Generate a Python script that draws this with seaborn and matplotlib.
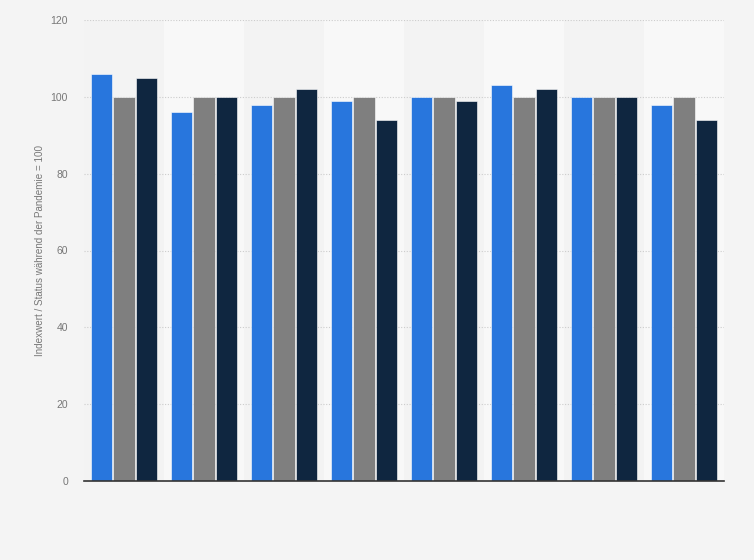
import matplotlib
matplotlib.use("Agg")
import matplotlib.pyplot as plt
import seaborn as sns
import pandas as pd

categories = ["1", "2", "3", "4", "5", "6", "7", "8"]
series_a = [106, 96, 98, 99, 100, 103, 100, 98]
series_b = [100, 100, 100, 100, 100, 100, 100, 100]
series_c = [105, 100, 102, 94, 99, 102, 100, 94]
series_names = ["A", "B", "C"]
colors = ["#2876dd", "#7f7f7f", "#0f2640"]
y_ticks = [0, 20, 40, 60, 80, 100, 120]
y_label = "Indexwert / Status während der Pandemie = 100"

rows = []
for name, vals in zip(series_names, [series_a, series_b, series_c]):
    for c, v in zip(categories, vals):
        rows.append({"cat": c, "series": name, "value": v})
df = pd.DataFrame(rows)

sns.set_theme(style="white")
plt.rcParams["font.family"] = ["Liberation Sans", "DejaVu Sans"]

fig = plt.figure(figsize=(7.54, 5.6), dpi=100, facecolor="#f4f4f4")
ax = fig.add_axes([84/754, 1-481/560, 640/754, 461/560])
ax.set_facecolor("#f3f3f3")

for i in range(len(categories)):
    if i % 2 == 1:
        ax.axvspan(i - 0.5, i + 0.5, color="#f8f8f8", zorder=0, lw=0)

sns.barplot(data=df, x="cat", y="value", hue="series", palette=colors,
            width=0.84, gap=0.06, ax=ax, legend=False, zorder=3,
            edgecolor="#ffffff", linewidth=0.4, saturation=1)

ax.set_xlim(-0.5, len(categories) - 0.5)
ax.set_ylim(0, 120)
ax.set_yticks(y_ticks)
ax.set_yticklabels([str(t) for t in y_ticks], fontsize=7.5, color="#777777")
ax.set_xticks(range(len(categories)))
ax.set_xticklabels([])
ax.tick_params(axis="y", length=0, pad=11.5)
ax.tick_params(axis="x", length=0, pad=2)
ax.set_xlabel("")
ax.set_ylabel(y_label, fontsize=7.1, color="#777777", labelpad=4)
ax.yaxis.grid(True, linestyle=(0, (1, 1.5)), color="#cccccc", linewidth=0.8, zorder=1)
ax.set_axisbelow(True)
for s in ["top", "right", "left"]:
    ax.spines[s].set_visible(False)
ax.spines["bottom"].set_color("#333333")
ax.spines["bottom"].set_linewidth(1.2)
ax.spines["bottom"].set_zorder(5)

fig.savefig("out.png", dpi=100, facecolor=fig.get_facecolor())
